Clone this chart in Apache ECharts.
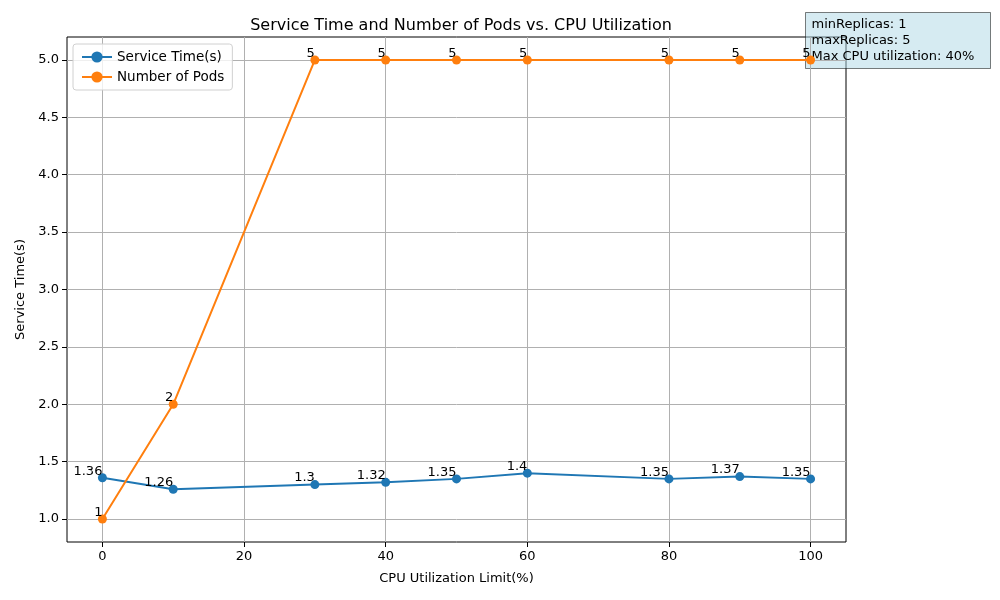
<!DOCTYPE html>
<html><head><meta charset="utf-8">
<script src="https://cdn.jsdelivr.net/npm/echarts@6/dist/echarts.min.js"></script>
<style>html,body{margin:0;padding:0;background:#fff}#c{width:1000px;height:600px}</style>
</head><body><div id="c"></div>
<script>
const cpuLimits = [0, 10, 30, 40, 50, 60, 80, 90, 100];
const serviceTime = [1.36, 1.26, 1.3, 1.32, 1.35, 1.4, 1.35, 1.37, 1.35];
const numPods = [1, 2, 5, 5, 5, 5, 5, 5, 5];
const xTicks = [0, 20, 40, 60, 80, 100];
const yTicks = [1.0, 1.5, 2.0, 2.5, 3.0, 3.5, 4.0, 4.5, 5.0];
const infoText = ['minReplicas: 1', 'maxReplicas: 5', 'Max CPU utilization: 40%'];

const FONT = 'DejaVu Sans';
const chart = echarts.init(document.getElementById('c'), null, {renderer: 'canvas'});
const lbl = {
  show: true, position: [4.5, 4.5], align: 'right', verticalAlign: 'bottom',
  color: '#000', fontFamily: FONT, fontSize: 13,
  formatter: p => String(p.value[1])
};
chart.setOption({
  animation: false,
  title: {text: 'Service Time and Number of Pods vs. CPU Utilization', left: 456, top: 13, textAlign: 'center',
    textStyle: {fontFamily: FONT, fontSize: 16, fontWeight: 'normal', color: '#000'}},
  grid: {left: 67, right: 154, top: 37, bottom: 58, show: true, borderColor: '#000', borderWidth: 1, backgroundColor: 'transparent'},
  legend: {
    left: 73, top: 44, orient: 'vertical', itemGap: 6, itemWidth: 30, itemHeight: 14,
    padding: [6, 8, 6, 8], borderColor: '#d0d0d0', borderWidth: 1, borderRadius: 3, backgroundColor: 'rgba(255,255,255,0.8)',
    textStyle: {fontFamily: FONT, fontSize: 13.5, color: '#000'}
  },
  xAxis: {
    type: 'value', min: -5, max: 105,
    name: 'CPU Utilization Limit(%)', nameLocation: 'middle', nameGap: 30,
    nameTextStyle: {fontFamily: FONT, fontSize: 13, color: '#000'},
    axisLine: {show: false, onZero: false},
    axisTick: {show: true, customValues: xTicks, length: 5, lineStyle: {color: '#000'}},
    axisLabel: {customValues: xTicks, fontFamily: FONT, fontSize: 13, color: '#000', margin: 8},
    splitLine: {show: true, lineStyle: {color: '#b0b0b0', width: 1}}
  },
  yAxis: {
    type: 'value', min: 0.8, max: 5.2,
    name: 'Service Time(s)', nameLocation: 'middle', nameGap: 40,
    nameTextStyle: {fontFamily: FONT, fontSize: 13, color: '#000'},
    axisLine: {show: false, onZero: false},
    axisTick: {show: true, customValues: yTicks, length: 5, lineStyle: {color: '#000'}},
    axisLabel: {customValues: yTicks, fontFamily: FONT, fontSize: 13, color: '#000', margin: 8, formatter: v => v.toFixed(1)},
    splitLine: {show: true, lineStyle: {color: '#b0b0b0', width: 1}}
  },
  series: [
    {name: 'Service Time(s)', type: 'line', data: cpuLimits.map((x, i) => [x, serviceTime[i]]),
      color: '#1f77b4', symbol: 'circle', symbolSize: 9, lineStyle: {width: 2}, label: lbl},
    {name: 'Number of Pods', type: 'line', data: cpuLimits.map((x, i) => [x, numPods[i]]),
      color: '#ff7f0e', symbol: 'circle', symbolSize: 9, lineStyle: {width: 2}, label: lbl}
  ],
  graphic: [{
    type: 'group', left: 805, top: 12, z: 100,
    children: [
      {type: 'rect', shape: {x: 0, y: 0, width: 185, height: 56},
        style: {fill: 'rgba(173,216,230,0.5)', stroke: 'rgba(0,0,0,0.5)', lineWidth: 1}},
      {type: 'text', x: 6, y: 4, style: {text: infoText.join('\n'), fontFamily: FONT, fontSize: 13, lineHeight: 16, fill: '#000'}}
    ]
  }]
});
</script></body></html>
